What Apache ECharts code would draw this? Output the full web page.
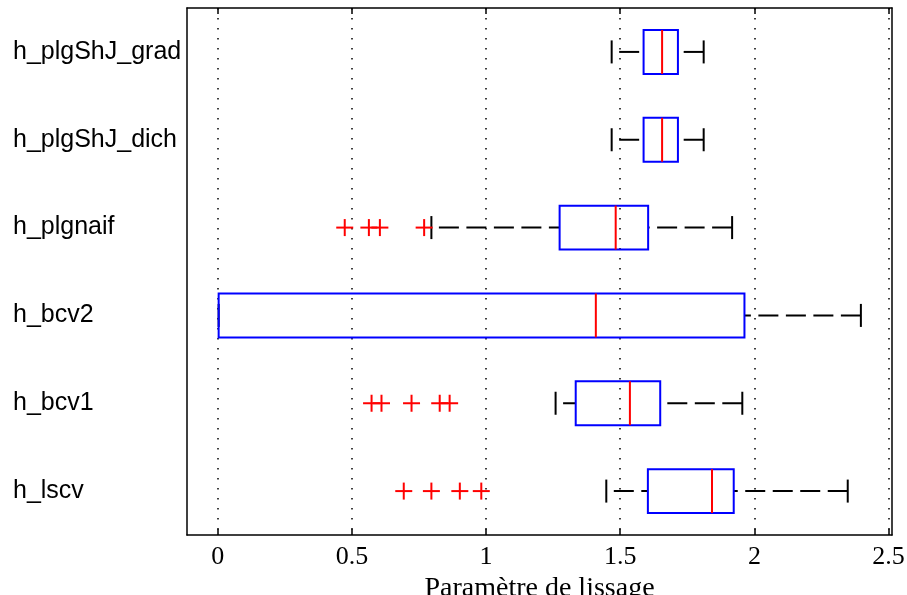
<!DOCTYPE html>
<html>
<head>
<meta charset="utf-8">
<script src="https://cdn.jsdelivr.net/npm/echarts@6/dist/echarts.min.js"></script>
<style>
  html, body { margin: 0; padding: 0; background: #fff; }
  #chart { width: 907px; height: 595px; }
</style>
</head>
<body>
<div id="chart"></div>
<script>
// ---- data ----
const categories = ['h_plgShJ_grad', 'h_plgShJ_dich', 'h_plgnaif', 'h_bcv2', 'h_bcv1', 'h_lscv'];
const whiskerLow  = [1.468, 1.468, 0.796, 0.003, 1.259, 1.448];
const quartile1   = [1.587, 1.587, 1.274, 0.003, 1.334, 1.603];
const medians     = [1.656, 1.656, 1.483, 1.409, 1.536, 1.842];
const quartile3   = [1.715, 1.715, 1.604, 1.963, 1.649, 1.923];
const whiskerHigh = [1.811, 1.811, 1.917, 2.397, 1.955, 2.348];
const outlierValues = [
  [],
  [],
  [0.473, 0.563, 0.604, 0.769],
  [],
  [0.573, 0.610, 0.722, 0.827, 0.864],
  [0.693, 0.796, 0.902, 0.982]
];
const xTicks = [0, 0.5, 1, 1.5, 2, 2.5];
const xTitle = 'Paramètre de lissage';

// ---- build series data from the arrays ----
const boxData = categories.map((c, i) => [i, whiskerLow[i], quartile1[i], medians[i], quartile3[i], whiskerHigh[i]]);
const outlierData = [];
outlierValues.forEach((arr, i) => arr.forEach(v => outlierData.push([i, v])));

const X_MIN = -0.115, X_MAX = 2.513;
const DASH = [20, 7.5];

function renderBox(params, api) {
  const idx = api.value(0);
  const band = api.size([0, 1])[1];
  const half = band * 0.25;
  const capHalf = band * 0.131;
  const pL = api.coord([api.value(1), idx]);
  const p1 = api.coord([api.value(2), idx]);
  const pM = api.coord([api.value(3), idx]);
  const p3 = api.coord([api.value(4), idx]);
  const pH = api.coord([api.value(5), idx]);
  const y = pM[1];
  const black = { stroke: '#000', lineWidth: 2, fill: null };
  return {
    type: 'group',
    children: [
      { type: 'line', shape: { x1: pL[0], y1: y, x2: p1[0], y2: y },
        style: { stroke: '#000', lineWidth: 2, lineDash: DASH, lineDashOffset: 20 } },
      { type: 'line', shape: { x1: pH[0], y1: y, x2: p3[0], y2: y },
        style: { stroke: '#000', lineWidth: 2, lineDash: DASH, lineDashOffset: 0 } },
      { type: 'line', shape: { x1: pL[0], y1: y - capHalf, x2: pL[0], y2: y + capHalf }, style: black },
      { type: 'line', shape: { x1: pH[0], y1: y - capHalf, x2: pH[0], y2: y + capHalf }, style: black },
      { type: 'rect', shape: { x: p1[0], y: y - half, width: p3[0] - p1[0], height: 2 * half },
        style: { stroke: '#0000FF', lineWidth: 2, fill: null } },
      { type: 'line', shape: { x1: pM[0], y1: y - half, x2: pM[0], y2: y + half },
        style: { stroke: '#FF0000', lineWidth: 2 } }
    ]
  };
}

function renderOutlier(params, api) {
  const p = api.coord([api.value(1), api.value(0)]);
  const s = 8.5;
  return {
    type: 'group',
    children: [
      { type: 'line', shape: { x1: p[0] - s, y1: p[1], x2: p[0] + s, y2: p[1] }, style: { stroke: '#FF0000', lineWidth: 2 } },
      { type: 'line', shape: { x1: p[0], y1: p[1] - s, x2: p[0], y2: p[1] + s }, style: { stroke: '#FF0000', lineWidth: 2 } }
    ]
  };
}

const chart = echarts.init(document.getElementById('chart'), null, { renderer: 'canvas' });
const axisLineStyle = { color: '#000', width: 1.5 };
chart.setOption({
  animation: false,
  backgroundColor: '#fff',
  grid: { left: 187, right: 15, top: 8, bottom: 60, containLabel: false, outerBoundsMode: 'none' },
  xAxis: [
    {
      type: 'value', min: X_MIN, max: X_MAX, position: 'bottom',
      axisLine: { show: true, onZero: false, lineStyle: axisLineStyle },
      axisTick: { show: true, inside: true, length: 6, customValues: xTicks, lineStyle: axisLineStyle },
      axisLabel: { show: true, customValues: xTicks, fontFamily: 'Liberation Serif', fontSize: 26, color: '#000', margin: 9 },
      splitLine: { show: true, lineStyle: { color: '#000', width: 1.5, type: [1.5, 8.5] } },
      name: xTitle, nameLocation: 'middle', nameGap: 29,
      nameTextStyle: { fontFamily: 'Liberation Serif', fontSize: 28, color: '#000' }
    },
    {
      type: 'value', min: X_MIN, max: X_MAX, position: 'top',
      axisLine: { show: true, onZero: false, lineStyle: axisLineStyle },
      axisTick: { show: true, inside: true, length: 6, customValues: xTicks, lineStyle: axisLineStyle },
      axisLabel: { show: false },
      splitLine: { show: false }
    }
  ],
  yAxis: [
    {
      type: 'category', data: categories, inverse: true, position: 'left',
      axisLine: { show: true, onZero: false, lineStyle: axisLineStyle },
      axisTick: { show: false },
      axisLabel: { show: true, align: 'left', margin: 174, fontFamily: 'Liberation Sans', fontSize: 25, color: '#000', padding: [12, 0, 0, 0] },
      splitLine: { show: false }
    },
    {
      type: 'category', data: categories, inverse: true, position: 'right',
      axisLine: { show: true, onZero: false, lineStyle: axisLineStyle },
      axisTick: { show: false }, axisLabel: { show: false }, splitLine: { show: false }
    }
  ],
  series: [
    { type: 'custom', name: 'box', xAxisIndex: 0, yAxisIndex: 0, data: boxData, renderItem: renderBox,
      encode: { x: [1, 2, 3, 4, 5], y: 0 }, clip: false, z: 3 },
    { type: 'custom', name: 'outliers', xAxisIndex: 0, yAxisIndex: 0, data: outlierData, renderItem: renderOutlier,
      encode: { x: 1, y: 0 }, clip: false, z: 4 }
  ]
});
</script>
</body>
</html>
